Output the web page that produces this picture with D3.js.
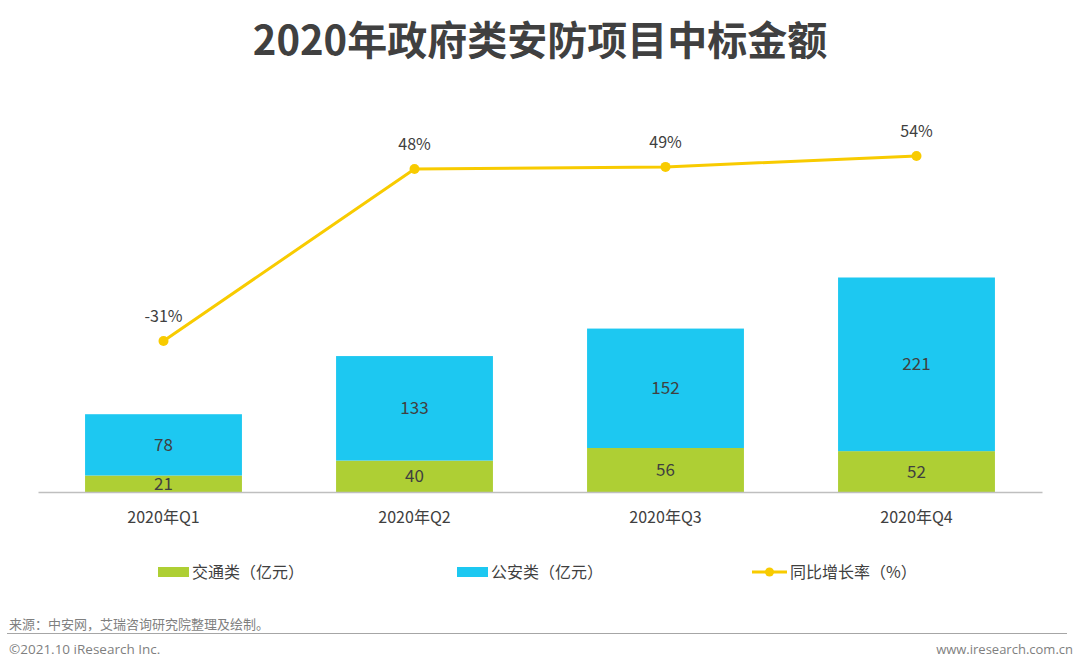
<!DOCTYPE html>
<html>
<head>
<meta charset="utf-8">
<script src="https://cdn.jsdelivr.net/npm/d3@7"></script>
<style>
  body { margin: 0; background: #fff; }
  svg { display: block; font-family: "Noto Sans CJK SC", "Noto Sans", sans-serif; }
</style>
</head>
<body>
<svg id="chart" width="1080" height="669"></svg>
<script>
// data
const quarters = ['2020年Q1', '2020年Q2', '2020年Q3', '2020年Q4'];
const traffic = [21, 40, 56, 52];      // 交通类（亿元）
const police = [78, 133, 152, 221];    // 公安类（亿元）
const growth = [-31, 48, 49, 54];      // 同比增长率（%）

const W = 1080, H = 669;
const GREEN = '#AECF34', BLUE = '#1DC8F1', YELLOW = '#F8CB00', TXT = '#404040';

const svg = d3.select('#chart');

// title
svg.append('text')
  .attr('x', W / 2).attr('y', 55)
  .attr('text-anchor', 'middle')
  .attr('font-size', 40).attr('font-weight', 700)
  .attr('fill', TXT)
  .text('2020年政府类安防项目中标金额');

const x = d3.scaleBand().domain(quarters).range([38, 1042]).paddingInner(0.375).paddingOuter(0.1875);
const y = d3.scaleLinear().domain([0, 273]).range([492, 277.5]);
const y2 = d3.scaleLinear().domain([-31, 54]).range([341, 156]);

const rows = quarters.map((q, i) => ({ q, traffic: traffic[i], police: police[i], growth: growth[i] }));

// bars: traffic at bottom, police stacked
const bars = svg.append('g');
bars.selectAll('rect.t').data(rows).join('rect')
  .attr('x', d => x(d.q)).attr('width', x.bandwidth())
  .attr('y', d => y(d.traffic)).attr('height', d => y(0) - y(d.traffic))
  .attr('fill', GREEN);
bars.selectAll('rect.p').data(rows).join('rect')
  .attr('x', d => x(d.q)).attr('width', x.bandwidth())
  .attr('y', d => y(d.traffic + d.police)).attr('height', d => y(d.traffic) - y(d.traffic + d.police))
  .attr('fill', BLUE);

// value labels
bars.selectAll('text.t').data(rows).join('text')
  .attr('x', d => x(d.q) + x.bandwidth() / 2)
  .attr('y', d => (y(0) + y(d.traffic)) / 2 + 6)
  .attr('text-anchor', 'middle').attr('font-size', 17).attr('fill', TXT)
  .text(d => d.traffic);
bars.selectAll('text.p').data(rows).join('text')
  .attr('x', d => x(d.q) + x.bandwidth() / 2)
  .attr('y', d => (y(d.traffic) + y(d.traffic + d.police)) / 2 + 6)
  .attr('text-anchor', 'middle').attr('font-size', 17).attr('fill', TXT)
  .text(d => d.police);

// x axis
svg.append('g')
  .attr('transform', `translate(0,${y(0)})`)
  .call(d3.axisBottom(x).tickSize(0).tickPadding(20).tickSizeOuter(0))
  .call(g => g.select('.domain').attr('stroke', '#bfbfbf').attr('stroke-width', 1.5))
  .call(g => g.selectAll('text').attr('font-size', 16).attr('fill', TXT)
    .attr('font-family', '"Noto Sans CJK SC", sans-serif'));

// growth line
const cx = d => x(d.q) + x.bandwidth() / 2;
svg.append('path')
  .datum(rows)
  .attr('fill', 'none').attr('stroke', YELLOW).attr('stroke-width', 3)
  .attr('d', d3.line().x(cx).y(d => y2(d.growth)));
svg.append('g').selectAll('circle').data(rows).join('circle')
  .attr('cx', cx).attr('cy', d => y2(d.growth)).attr('r', 5)
  .attr('fill', YELLOW);
svg.append('g').selectAll('text').data(rows).join('text')
  .attr('x', cx).attr('y', d => y2(d.growth) - 19)
  .attr('text-anchor', 'middle').attr('font-size', 16).attr('fill', TXT)
  .text(d => d.growth + '%');

// legend
const legend = svg.append('g').attr('transform', 'translate(0,572)');
legend.append('rect').attr('x', 158).attr('y', -5).attr('width', 31).attr('height', 10).attr('fill', GREEN);
legend.append('text').attr('x', 192).attr('y', 6).attr('font-size', 16).attr('fill', TXT).text('交通类（亿元）');
legend.append('rect').attr('x', 457).attr('y', -5).attr('width', 31).attr('height', 10).attr('fill', BLUE);
legend.append('text').attr('x', 491).attr('y', 6).attr('font-size', 16).attr('fill', TXT).text('公安类（亿元）');
legend.append('line').attr('x1', 752).attr('x2', 787).attr('y1', 0).attr('y2', 0)
  .attr('stroke', YELLOW).attr('stroke-width', 3);
legend.append('circle').attr('cx', 769.5).attr('cy', 0).attr('r', 4.5).attr('fill', YELLOW);
legend.append('text').attr('x', 790).attr('y', 6).attr('font-size', 16).attr('fill', TXT).text('同比增长率（%）');

// footer
svg.append('text').attr('x', 9).attr('y', 629).attr('font-size', 13).attr('fill', '#7f7f7f')
  .text('来源：中安网，艾瑞咨询研究院整理及绘制。');
svg.append('line').attr('x1', 7).attr('x2', 1067).attr('y1', 633.5).attr('y2', 633.5)
  .attr('stroke', '#a6a6a6').attr('stroke-width', 1);
svg.append('text').attr('x', 9).attr('y', 654).attr('font-size', 13.5).attr('fill', '#7f7f7f')
  .attr('font-family', '"Open Sans", sans-serif')
  .text('©2021.10 iResearch Inc.');
svg.append('text').attr('x', 1073).attr('y', 654).attr('text-anchor', 'end').attr('font-size', 13).attr('fill', '#7f7f7f')
  .attr('font-family', '"Open Sans", sans-serif')
  .text('www.iresearch.com.cn');
</script>
</body>
</html>
